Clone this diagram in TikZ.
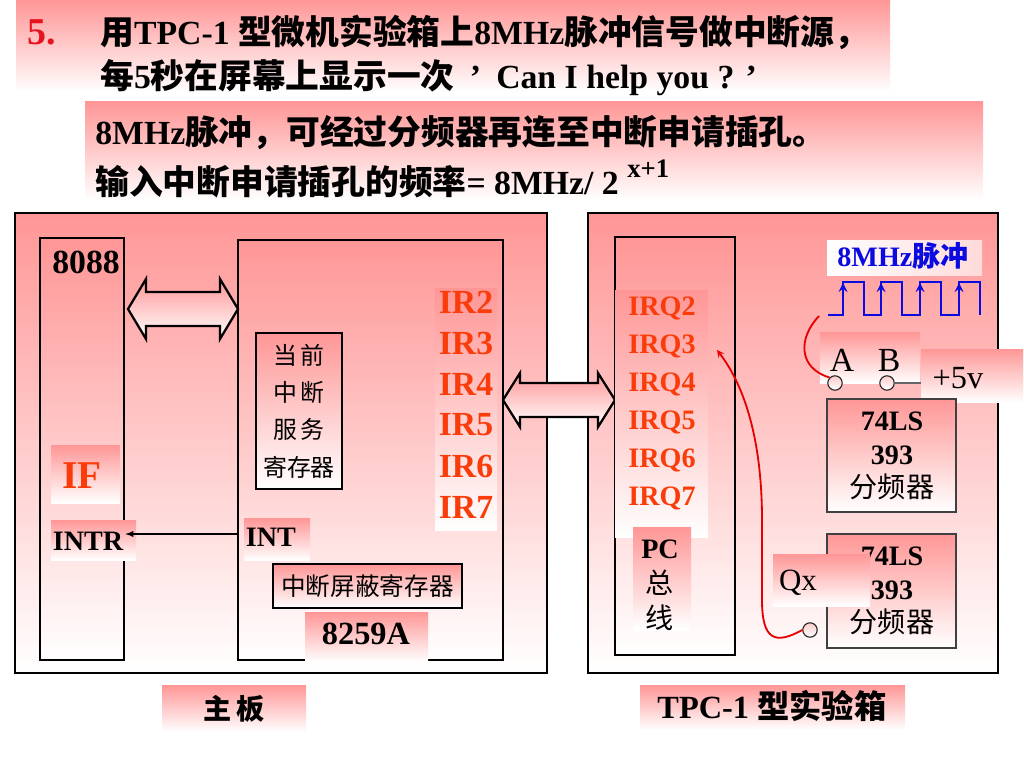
\documentclass[tikz,border=0pt]{standalone}
\usepackage{fontspec}
\setmainfont{Liberation Serif}
\newfontfamily\cjk{Noto Sans CJK SC}
\usetikzlibrary{positioning,fit,calc}
\definecolor{pinktop}{RGB}{255,150,150}
\definecolor{irred}{RGB}{250,60,10}
\definecolor{numred}{RGB}{230,20,30}
\definecolor{clkblue}{RGB}{10,10,225}
\definecolor{wirered}{RGB}{230,0,0}
\newcommand{\zh}[1]{{\cjk #1}}
\newcommand{\headfont}{\fontsize{24}{29}\selectfont\bfseries}
\tikzset{board/.style={draw,line width=2pt,top color=pinktop,bottom color=white,inner sep=0pt},
         chip/.style={draw,line width=1.8pt,top color=pinktop,bottom color=white,inner sep=0pt},
         reg/.style={draw,line width=1.6pt,top color=pinktop,bottom color=white,inner sep=0pt},
         divider/.style={draw=black!75,line width=0.9pt,top color=pinktop,bottom color=white,inner sep=0pt},
         tag/.style={top color=pinktop,bottom color=white,inner sep=0pt},
         headline/.style={anchor=base west,inner sep=0pt,font=\headfont},
         pin/.style={circle,draw=black!85,line width=0.8pt,top color=pinktop!50,bottom color=white,minimum size=0.36cm,inner sep=0pt},
         bus/.style={draw,line width=1.6pt,line join=miter,top color=pinktop,bottom color=white},
         line/.style={-latex,line width=1pt},
         wire/.style={wirered,line width=1.3pt},
         pulse/.style={clkblue,line width=1.8pt}
}

\begin{document}
\begin{tikzpicture}[x=0.025cm,y=-0.025cm]
\useasboundingbox (0,0) rectangle (1024,768);
\fill[white] (0,0) rectangle (1024,768);

% task text
\node[tag,fit={(16,0) (890,92)}] (taskbg) {};
\node[tag,fit={(85,102) (983,200)}] (notebg) {};
\node[headline,text=numred,font=\fontsize{27}{30}\selectfont\bfseries] (num) at (27,45) {5.};
\node[headline] (task1) at (100,45) {\zh{用}TPC-1 \zh{型微机实验箱上}8MHz\zh{脉冲信号做中断源，}};
\node[headline] (task2) at (100,89) {\zh{每}5\zh{秒在屏幕上显示一次}\hspace{0.45em}’\hspace{0.45em}Can I help you ? ’};
\node[headline] (note1) at (95,145) {8MHz\zh{脉冲，可经过分频器再连至中断申请插孔。}};
\node[headline] (note2) at (95,194) {\zh{输入中断申请插孔的频率}= 8MHz/ 2 \raisebox{0.5em}{\fontsize{19}{20}\selectfont x+1}};

% main board
\node[board,fit={(15,213) (547,673)}] (mainboard) {};
\node[chip,fit={(40,238) (124,660)}] (cpu) {};
\node[chip,fit={(238,240) (503,660)}] (pic) {};
\node[font=\fontsize{24}{26}\selectfont\bfseries] (cpuname) at (86,262) {8088};
\draw[bus] (128,309) -- (146,279) -- (146,292) -- (220,292) -- (220,279) -- (238,309)
  -- (220,339) -- (220,326) -- (146,326) -- (146,339) -- cycle;
\node[reg,fit={(256,333) (342,489)}] (isr) {};
\node[align=center,font=\fontsize{17}{26.5}\selectfont\cjk] (isrname) at (isr) {当\,前\\中\,断\\服\,务\\寄存器};
\node[reg,fit={(273,564) (462,608)}] (imr) {};
\node[font=\fontsize{17.5}{20}\selectfont\cjk] (imrname) at (imr) {中断屏蔽寄存器};
\node[tag,fit={(435,288) (497,530)}] (irbg) {};
\foreach \n [count=\i] in {2,...,7}
  \node[font=\fontsize{24}{26}\selectfont\bfseries,text=irred] (ir\n) at (466,261+41*\i) {IR\n};
\node[tag,fit={(51,445) (120,503)}] (ifbg) {};
\node[text=irred,font=\fontsize{28}{30}\selectfont\bfseries] (iflag) at (82,476) {IF};
\node[tag,fit={(51,520) (136,560)}] (intrbg) {};
\node[font=\fontsize{20}{22}\selectfont\bfseries] (intr) at (88,541) {INTR};
\node[tag,fit={(244,518) (310,560)}] (intbg) {};
\node[font=\fontsize{20}{22}\selectfont\bfseries] (int) at (271,537) {INT};
\node[tag,fit={(305,612) (428,662)}] (picbg) {};
\node[font=\fontsize{23}{25}\selectfont\bfseries] (picname) at (366,634) {8259A};
\draw[line] (pic.west |- 0,534) -- (cpu.east |- 0,534);
\node[tag,fit={(162,685) (306,732)}] (boardbg) {};
\node[font=\fontsize{20}{22}\selectfont\bfseries\cjk] (boardname) at (boardbg) {主\,板};

% TPC-1 box
\node[board,fit={(588,213) (998,673)}] (tpc) {};
\node[chip,fit={(615,237) (735,655)}] (pcbus) {};

% bus between the boards
\draw[bus] (503,400) -- (520,373) -- (520,383) -- (598,383) -- (598,373) -- (615,400)
  -- (598,427) -- (598,417) -- (520,417) -- (520,427) -- cycle;

\node[tag,fit={(615,290) (708,537)}] (irqbg) {};
\foreach \n [count=\i] in {2,...,7}
  \node[font=\fontsize{20}{22}\selectfont\bfseries,text=irred] (irq\n) at (662,270+38*\i) {IRQ\n};
\node[tag,fit={(633,527) (691,630)}] (pcbg) {};
\node[align=center,font=\fontsize{20}{25}\selectfont] (pcname) at (660,585) {\textbf{PC}\\\zh{总}\\\zh{线}};
\node[left color=white,right color=pinktop!35,inner sep=0pt,fit={(827,240) (982,275)}] (clkbg) {};
\node[text=clkblue,font=\fontsize{20}{22}\selectfont\bfseries] (clklbl) at (903,256) {8MHz\zh{脉冲}};
\coordinate (wavestart) at (828,315);
\draw[pulse] (wavestart) \foreach \x in {843,881,920,959} { -- (\x,315) -- (\x,282) -- (\x+21,282) -- (\x+21,315) };
\foreach \x in {843,881,920,959}
  \draw[pulse,-stealth] (\x,302) -- (\x,283);
\node[tag,fit={(820,332) (920,383)}] (abbg) {};
\node[font=\fontsize{24}{26}\selectfont] (alabel) at (842,360) {A};
\node[font=\fontsize{24}{26}\selectfont] (blabel) at (889,360) {B};
\node[tag,fit={(921,349) (1023,402)}] (vccbg) {};
\node[font=\fontsize{23}{25}\selectfont] (vcc) at (958,378) {+5v};
\node[pin] (apin) at (835,383) {};
\node[pin] (bpin) at (887,383) {};
\draw[black!60,line width=1pt] (bpin) -- (bpin -| vccbg.west);
\node[divider,fit={(827,399) (956,512)}] (div1) {};
\node[align=center,font=\fontsize{20}{24}\selectfont] (div1name) at (892,456) {\textbf{74LS}\\\textbf{393}\\\zh{分频器}};
\node[divider,fit={(827,534) (956,648)}] (div2) {};
\node[align=center,font=\fontsize{20}{24}\selectfont] (div2name) at (892,591) {\textbf{74LS}\\\textbf{393}\\\zh{分频器}};
\node[tag,fit={(773,554) (870,606)}] (qxbg) {};
\node[font=\fontsize{22}{24}\selectfont] (qx) at (798,583) {Qx};
\node[pin] (qxpin) at (810,630) {};
\coordinate (clkout) at (819,316);
\coordinate (irqin) at (717,350);
\draw[wire] (clkout) .. controls (798,338) and (798,368) .. (apin.north west);
\draw[wire,-stealth] (qxpin.west) .. controls (775,645) and (762,640) .. (762,600)
  -- (762,520) .. controls (762,430) and (740,380) .. (irqin);
\node[tag,fit={(640,685) (905,730)}] (tpcbg) {};
\node[font=\fontsize{23}{25}\selectfont\bfseries] (tpcname) at (772,706) {TPC-1 \zh{型实验箱}};

\end{tikzpicture}
\end{document}
